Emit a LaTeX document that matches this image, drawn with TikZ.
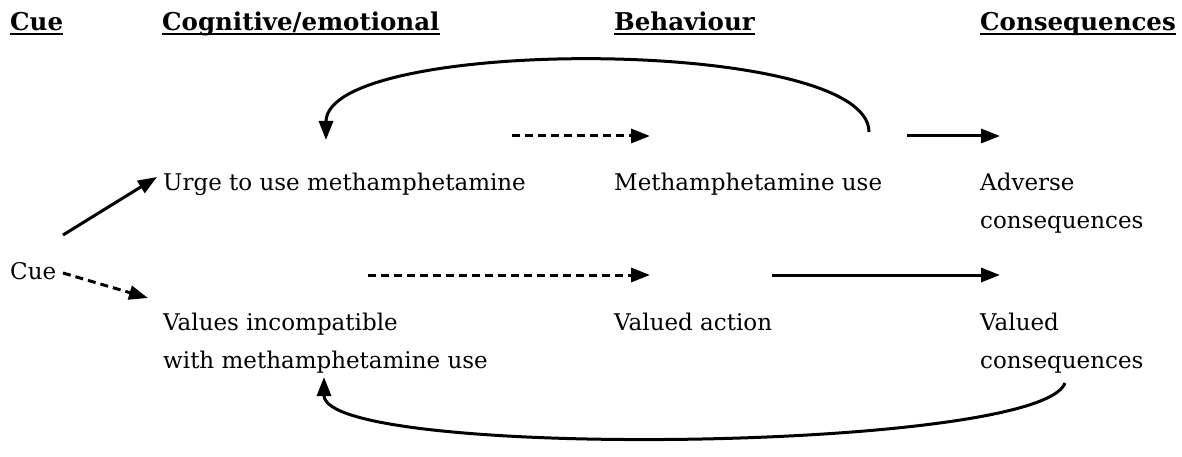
\documentclass[tikz,border=0pt]{standalone}
\usepackage{fontspec}
\setmainfont{DejaVu Serif}
\usetikzlibrary{arrows.meta}
\newcommand{\bodysize}{\fontsize{23}{38}\selectfont}
\newcommand{\headsize}{\fontsize{24.5}{30}\selectfont}
\tikzstyle{head} = [anchor=base west, inner sep=0pt, font=\headsize\bfseries]
\tikzstyle{txt} = [anchor=base west, inner sep=0pt, align=left, font=\bodysize]
\tikzstyle{link} = [line width=3pt, -{Triangle[length=19pt,width=14pt]}]
\tikzstyle{dlink} = [link, dash pattern=on 8pt off 5pt]
\tikzstyle{backarc} = [line width=3pt]

\begin{document}
\begin{tikzpicture}[x=1pt, y=-1pt]
    \useasboundingbox (0,0) rectangle (1182,457);
    % column heads
    \node[head] (hcue) at (10,31) {Cue};
    \node[head] (hcog) at (162,31) {Cognitive/emotional};
    \node[head] (hbeh) at (614,31) {Behaviour};
    \node[head] (hcon) at (980,31) {Consequences};
    \foreach \h in {hcue,hcog,hbeh,hcon}
        \draw[line width=2pt] ([yshift=-3.5pt]\h.base west) -- ([yshift=-3.5pt]\h.base east);
    % texts
    \node[txt] (urge) at (163,190) {Urge to use methamphetamine};
    \node[txt] (use) at (614,190) {Methamphetamine use};
    \node[txt] (adverse) at (980,228) {Adverse\\consequences};
    \node[txt] (cue) at (10,279) {Cue};
    \node[txt] (values) at (163,368) {Values incompatible\\with methamphetamine use};
    \node[txt] (action) at (614,330) {Valued action};
    \node[txt] (valued) at (980,368) {Valued\\consequences};
    % arrow ends
    \coordinate (cueup) at (63,235);   \coordinate (urgein) at (157,177);
    \coordinate (cuedn) at (63,273);   \coordinate (valin) at (148,298);
    \coordinate (urgeout) at (512,136); \coordinate (usein) at (650,136);
    \coordinate (useout) at (907,136); \coordinate (advin) at (1000,136);
    \coordinate (valout) at (368,275); \coordinate (actin) at (650,275);
    \coordinate (actout) at (772,275); \coordinate (vcin) at (1000,275);
    \coordinate (usetop) at (869,132); \coordinate (urgetop) at (326,140);
    \coordinate (vcbot) at (1065,383); \coordinate (valbot) at (324,377);
    \draw[link] (cueup) -- (urgein);
    \draw[dlink] (cuedn) -- (valin);
    \draw[dlink] (urgeout) -- (usein);
    \draw[link] (useout) -- (advin);
    \draw[dlink] (valout) -- (actin);
    \draw[link] (actout) -- (vcin);
    \draw[backarc, link] (usetop) .. controls (869,36) and (326,36) .. (urgetop);
    \draw[backarc, link] (vcbot) .. controls (1040,452) and (324,460) .. (valbot);
\end{tikzpicture}
\end{document}
